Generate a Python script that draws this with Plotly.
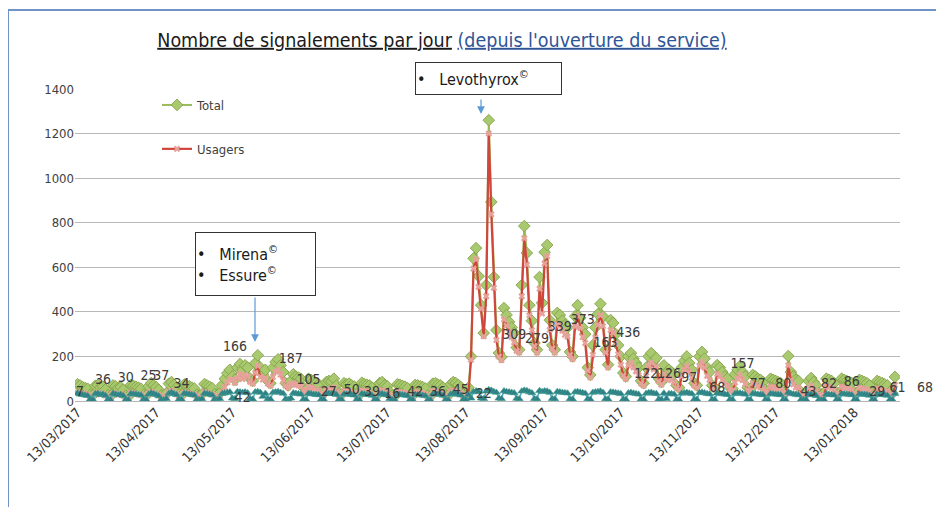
import plotly.graph_objects as go
import pandas as pd

# ---------------- DATA (daily, starting Monday 13/03/2017) ----------------
START_DATE = "2017-03-13"

total = [
    75, 70, 62, 58, 55, 28, 25,
    68, 72, 60, 64, 52, 26, 22,
    70, 66, 58, 62, 50, 24, 20,
    72, 68, 64, 60, 55, 28, 24,
    66, 80, 70, 62, 50, 25, 20,
    35, 78, 85, 72, 60, 30, 26,
    74, 70, 66, 60, 56, 28, 24,
    30, 76, 70, 64, 58, 30, 25,
    35, 72, 100, 125, 140, 110, 95,
    150, 166, 140, 160, 150, 100, 90,
    170, 205, 150, 120, 140, 90, 80,
    150, 175, 187, 160, 130, 80, 70,
    90, 120, 110, 105, 100, 60, 50,
    100, 95, 90, 80, 75, 40, 35,
    85, 90, 88, 100, 70, 35, 30,
    80, 75, 78, 70, 65, 32, 28,
    82, 76, 72, 70, 60, 30, 26,
    80, 85, 70, 66, 40, 25, 22,
    75, 72, 68, 64, 58, 28, 24,
    72, 70, 66, 62, 56, 26, 22,
    78, 80, 74, 70, 60, 28, 25,
    75, 85, 80, 72, 62, 30, 26,
    60, 200, 640, 686, 560, 430, 305,
    520, 1260, 893, 556, 318, 215, 197,
    417, 386, 355, 330, 305, 240, 230,
    520, 785, 664, 430, 360, 260, 230,
    556, 440, 668, 700, 363, 250, 230,
    395, 386, 360, 340, 330, 220, 200,
    380, 430, 373, 330, 300, 150, 117,
    250, 330, 390, 436, 380, 230, 163,
    363, 350, 300, 250, 200, 126, 110,
    200, 215, 190, 170, 150, 90, 80,
    150, 200, 215, 180, 193, 100, 85,
    160, 110, 140, 130, 120, 70, 60,
    150, 180, 200, 170, 140, 80, 70,
    200, 220, 190, 150, 130, 70, 60,
    161, 150, 130, 110, 100, 60, 55,
    120, 140, 157, 130, 110, 60, 55,
    117, 110, 100, 95, 85, 50, 45,
    100, 95, 90, 85, 80, 45, 40,
    202, 130, 110, 95, 90, 40, 30,
    35, 90, 103, 85, 70, 35, 30,
    35, 100, 95, 90, 80, 40, 35,
    100, 95, 90, 86, 80, 40, 35,
    95, 90, 85, 80, 70, 35, 30,
    90, 85, 80, 75, 70, 40, 35,
    108,
]

usagers = [
    38, 36, 32, 30, 29, 18, 17,
    34, 36, 30, 32, 25, 17, 15,
    34, 34, 29, 31, 24, 16, 13,
    37, 35, 32, 30, 27, 18, 16,
    34, 42, 36, 32, 26, 17, 13,
    23, 42, 45, 38, 30, 20, 18,
    38, 36, 34, 30, 28, 19, 16,
    19, 40, 36, 32, 29, 20, 17,
    23, 37, 62, 84, 96, 95, 82,
    104, 122, 98, 116, 110, 86, 78,
    126, 158, 108, 96, 102, 78, 69,
    108, 131, 140, 118, 92, 68, 60,
    75, 80, 72, 70, 67, 49, 41,
    63, 60, 57, 49, 45, 30, 27,
    50, 53, 52, 61, 39, 25, 21,
    46, 42, 45, 39, 36, 22, 20,
    47, 43, 41, 39, 32, 21, 18,
    46, 49, 39, 36, 27, 17, 16,
    42, 40, 38, 35, 31, 19, 16,
    40, 39, 36, 34, 30, 18, 15,
    44, 45, 41, 39, 32, 19, 17,
    42, 48, 45, 40, 33, 20, 17,
    29, 185, 594, 636, 512, 414, 290,
    470, 1200, 838, 508, 274, 199, 183,
    366, 338, 309, 287, 263, 225, 217,
    470, 730, 612, 384, 318, 246, 217,
    504, 392, 617, 650, 319, 236, 217,
    347, 340, 316, 297, 289, 207, 188,
    334, 382, 328, 287, 260, 137, 106,
    207, 284, 342, 385, 336, 217, 151,
    318, 306, 258, 210, 163, 114, 99,
    160, 172, 151, 133, 116, 78, 69,
    112, 158, 172, 142, 155, 88, 74,
    121, 96, 103, 94, 86, 60, 51,
    112, 140, 157, 131, 104, 69, 60,
    158, 176, 150, 113, 95, 60, 51,
    122, 112, 94, 76, 68, 50, 46,
    83, 101, 117, 94, 76, 50, 46,
    80, 74, 66, 62, 54, 41, 37,
    64, 60, 56, 52, 49, 36, 32,
    160, 92, 75, 62, 59, 31, 22,
    26, 58, 69, 54, 43, 27, 23,
    26, 66, 62, 58, 50, 31, 27,
    64, 60, 56, 53, 49, 31, 27,
    60, 56, 52, 48, 42, 27, 23,
    56, 52, 48, 44, 42, 31, 27,
    72,
]

professionnels = [
    35, 30, 28, 26, 24, 8, 6,
    32, 34, 28, 30, 25, 7, 5,
    34, 30, 27, 29, 24, 6, 5,
    33, 31, 30, 28, 26, 8, 6,
    30, 36, 32, 28, 22, 6, 5,
    10, 34, 38, 32, 28, 8, 6,
    34, 32, 30, 28, 26, 7, 6,
    9, 34, 32, 30, 27, 8, 6,
    10, 33, 35, 38, 40, 12, 10,
    42, 40, 38, 40, 36, 10, 8,
    40, 42, 38, 20, 34, 9, 8,
    38, 40, 42, 38, 34, 9, 7,
    12, 36, 34, 32, 30, 8, 6,
    34, 32, 30, 28, 27, 7, 6,
    32, 34, 33, 36, 28, 7, 6,
    31, 30, 30, 28, 26, 7, 5,
    32, 30, 28, 28, 25, 6, 5,
    31, 33, 28, 27, 10, 5, 4,
    30, 29, 27, 26, 24, 6, 5,
    29, 28, 27, 25, 23, 5, 4,
    31, 32, 30, 28, 25, 6, 5,
    30, 34, 32, 29, 26, 7, 6,
    28, 12, 40, 45, 42, 12, 10,
    44, 50, 48, 42, 38, 12, 10,
    45, 42, 40, 38, 36, 11, 9,
    44, 48, 46, 40, 36, 10, 9,
    46, 42, 45, 44, 38, 10, 9,
    42, 40, 38, 37, 35, 9, 8,
    40, 42, 39, 37, 34, 9, 7,
    38, 40, 42, 44, 38, 9, 8,
    40, 39, 37, 35, 32, 8, 7,
    36, 38, 35, 33, 30, 8, 7,
    34, 37, 38, 34, 33, 8, 7,
    35, 10, 33, 32, 30, 7, 6,
    34, 36, 38, 35, 32, 8, 7,
    37, 39, 36, 33, 31, 7, 6,
    35, 34, 32, 30, 28, 7, 6,
    33, 35, 36, 32, 30, 7, 6,
    33, 32, 30, 29, 27, 6, 5,
    32, 31, 30, 29, 27, 6, 5,
    38, 34, 31, 29, 27, 6, 5,
    6, 28, 30, 27, 24, 5, 4,
    6, 30, 29, 28, 26, 6, 5,
    32, 31, 30, 29, 27, 6, 5,
    31, 30, 29, 28, 25, 5, 4,
    30, 29, 28, 27, 25, 6, 5,
    32,
]

# data labels shown on the chart
label_dates = ["2017-03-14", "2017-03-23", "2017-04-01", "2017-04-10", "2017-04-15",
               "2017-04-23", "2017-05-14", "2017-05-17", "2017-06-05", "2017-06-12",
               "2017-06-20", "2017-06-29", "2017-07-07", "2017-07-15", "2017-07-24",
               "2017-08-02", "2017-08-11", "2017-08-20", "2017-09-01", "2017-09-10",
               "2017-09-19", "2017-09-28", "2017-10-07", "2017-10-16", "2017-10-23",
               "2017-11-01", "2017-11-09", "2017-11-20", "2017-11-30", "2017-12-06",
               "2017-12-16", "2017-12-26", "2018-01-03", "2018-01-12", "2018-01-22",
               "2018-01-30"]
label_texts = ["7", "36", "30", "25", "37", "34", "166", "42", "187", "105",
               "27", "50", "39", "16", "42", "36", "45", "22", "309", "279",
               "339", "373", "163", "436", "122", "126", "97", "68", "157", "77",
               "80", "43", "82", "86", "29", "61"]
label_y = [40, 90, 99, 108, 108, 76, 242, 13, 184, 90,
           36, 49, 36, 31, 40, 40, 45, 27, 296, 274,
           332, 363, 260, 305, 121, 121, 103, 58, 166, 72,
           72, 40, 76, 81, 40, 54]
# label written just right of the last day
last_label_text = "68"
last_label_y = 63

tick_dates = ["2017-03-13", "2017-04-13", "2017-05-13", "2017-06-13", "2017-07-13",
              "2017-08-13", "2017-09-13", "2017-10-13", "2017-11-13", "2017-12-13",
              "2018-01-13"]
tick_labels = ["13/03/2017", "13/04/2017", "13/05/2017", "13/06/2017", "13/07/2017",
               "13/08/2017", "13/09/2017", "13/10/2017", "13/11/2017", "13/12/2017",
               "13/01/2018"]

y_ticks = [0, 200, 400, 600, 800, 1000, 1200, 1400]

# ---------------- FIGURE ----------------
dates = pd.date_range(START_DATE, periods=len(total), freq="D")

FONT = "Liberation Sans Narrow, DejaVu Sans Condensed, Liberation Sans, sans-serif"
OFF = 8                       # page body margin
W, H = 944 - 2 * OFF, 515 - 2 * OFF
# plot area in page pixels
PL, PR, PT, PB = 75, 900, 89, 401


def px(x):
    return (x - PL) / (PR - PL)


def py(y):
    return (PB - y) / (PB - PT)


fig = go.Figure()

fig.add_trace(go.Scatter(
    x=dates, y=total, name="Total", mode="lines+markers",
    line=dict(color="#9BBB59", width=2),
    marker=dict(symbol="diamond", size=9, color="#A9C96E",
                line=dict(color="#7E9C45", width=0.8)),
    legendgroup="g1",
))
fig.add_trace(go.Scatter(
    x=dates, y=usagers, name="Usagers", mode="lines+markers",
    line=dict(color="#D0453C", width=2.2),
    marker=dict(symbol="x", size=6, color="#E6A29A"),
    legendgroup="g2",
))
fig.add_trace(go.Scatter(
    x=dates, y=professionnels, name="Professionnels", mode="lines+markers",
    line=dict(color="#4BACC6", width=1.5),
    marker=dict(symbol="triangle-up", size=7, color="#2F7F86",
                line=dict(color="#3E9E8E", width=0.6)),
    showlegend=False,
))
fig.add_trace(go.Scatter(
    x=pd.to_datetime(label_dates), y=label_y, text=label_texts, mode="text",
    textfont=dict(family=FONT, size=14, color="#3A3A3A"),
    showlegend=False, cliponaxis=False, hoverinfo="skip",
))

title_html = ("<u>Nombre de signalements par jour</u> "
              "<span style='color:#2F5597'><u>(depuis l'ouverture du service)</u></span>")

fig.update_layout(
    width=W, height=H, autosize=False,
    margin=dict(l=PL - OFF, r=W + OFF - PR, t=PT - OFF, b=H + OFF - PB,
                autoexpand=False),
    paper_bgcolor="white", plot_bgcolor="white",
    font=dict(family=FONT, size=12, color="#404040"),
    title=dict(text=title_html, x=px(442), xref="paper", xanchor="center",
               y=1 - (40 - OFF) / H, yanchor="middle",
               font=dict(family=FONT, size=19.5, color="#1A1A1A")),
    legend=dict(x=px(157), y=py(90), xanchor="left", yanchor="top",
                bgcolor="rgba(0,0,0,0)", tracegroupgap=24,
                font=dict(family=FONT, size=13, color="#404040")),
    xaxis=dict(type="date", range=["2017-03-12", "2018-01-31"],
               tickvals=tick_dates, ticktext=tick_labels, tickangle=-45,
               showgrid=False, zeroline=False, showline=False, ticks="",
               automargin=False,
               tickfont=dict(family=FONT, size=13.5, color="#333333")),
    yaxis=dict(range=[0, 1400], tickvals=y_ticks, showgrid=True,
               gridcolor="#B8B8B8", gridwidth=1, zeroline=True,
               zerolinecolor="#B8B8B8", zerolinewidth=1, showline=False,
               ticks="", automargin=False,
               tickfont=dict(family=FONT, size=13, color="#404040")),
    shapes=[dict(type="rect", xref="paper", yref="paper",
                 x0=px(8), x1=px(960), y0=py(530), y1=py(10),
                 line=dict(color="#6F93C6", width=2), fillcolor="rgba(0,0,0,0)",
                 layer="below")],
    annotations=[
        dict(xref="x", yref="y", x=dates[-1], y=last_label_y, text=last_label_text,
             showarrow=False, xanchor="left", xshift=20,
             font=dict(family=FONT, size=14, color="#3A3A3A")),
        dict(xref="paper", yref="paper", x=px(488.5), y=py(78.5),
             text="•   Levothyrox<sup>©</sup>", showarrow=False,
             font=dict(family=FONT, size=16, color="#1A1A1A"),
             align="left", bgcolor="white", bordercolor="#333333", borderwidth=1,
             borderpad=1, width=143, height=29, xanchor="center", yanchor="middle"),
        dict(xref="paper", yref="paper", x=px(255.5), y=py(264),
             text="•   Mirena<sup>©</sup><br>•   Essure<sup>©</sup>", showarrow=False,
             font=dict(family=FONT, size=16, color="#1A1A1A"),
             align="left", bgcolor="white", bordercolor="#333333", borderwidth=1,
             borderpad=1, width=117, height=60, xanchor="center", yanchor="middle"),
        dict(xref="paper", yref="paper", x=px(255), y=py(342), text="",
             showarrow=True, ax=0, ay=-46, arrowcolor="#5B9BD5", arrowwidth=1.2,
             arrowhead=2, arrowsize=1.3),
        dict(xref="paper", yref="paper", x=px(481), y=py(114), text="",
             showarrow=True, ax=0, ay=-16, arrowcolor="#5B9BD5", arrowwidth=1.2,
             arrowhead=2, arrowsize=1.3),
    ],
)

fig.write_html("out.html")
